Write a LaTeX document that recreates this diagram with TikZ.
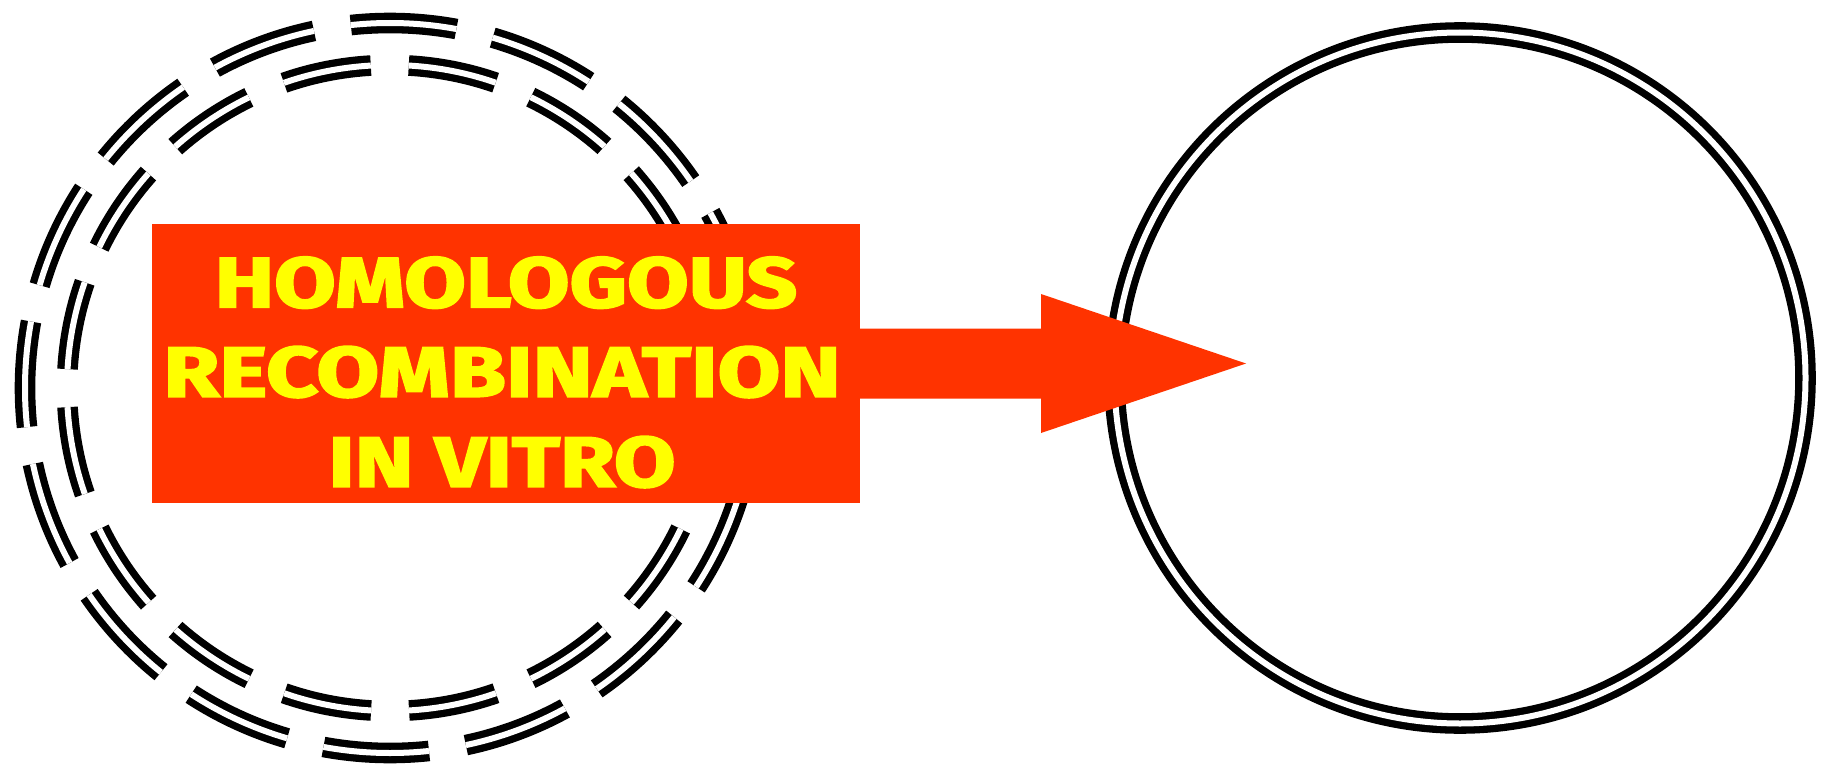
\documentclass[tikz,border=0pt]{standalone}
\usepackage{fontspec}
\usepackage{graphicx}
\setmainfont{Fira Sans}
\newfontfamily\boxfont{Fira Sans}[BoldFeatures={FakeBold=2.5}]
\usetikzlibrary{calc}
\definecolor{arrowred}{HTML}{FF3300}
\definecolor{txtyellow}{HTML}{FFFF00}
\begin{document}
\begin{tikzpicture}[x=1pt,y=-1pt,
  ring/.style={draw=black, line width=7.3pt, double=white, double distance=6pt},
  boxtext/.style={anchor=base, text=txtyellow, inner sep=0pt, font=\boxfont\bfseries}]
\useasboundingbox (0,0) rectangle (1829,768);
% left dashed double circles
\draw[ring, dash pattern=on 106pt off 37.335pt, dash phase=39pt] (390,388) circle[radius=365];
\draw[ring, dash pattern=on 88.84pt off 38pt, dash phase=107.84pt] (390,388) circle[radius=323];
% right double circle
\node[circle, ring, minimum size=691pt, inner sep=0pt] (target) at (1460,378) {};
% red box
\node[fill=arrowred, minimum width=708pt, minimum height=279pt, inner sep=0pt] (box) at (505.8,363.5) {};
% block arrow
\coordinate (hb) at (1041,363.5);
\coordinate (tip) at (1246,363.5);
\fill[arrowred] ($(box.east)+(-2,-35)$) -- ($(hb)+(0,-35)$) -- ($(hb)+(0,-69.5)$) -- (tip)
  -- ($(hb)+(0,69.5)$) -- ($(hb)+(0,35)$) -- ($(box.east)+(-2,35)$) -- cycle;
% text
\node[boxtext] (l1) at (506,307.3) {\resizebox{582pt}{50.5pt}{HOMOLOGOUS}};
\node[boxtext] (l2) at (502,396.7) {\resizebox{677pt}{50.5pt}{RECOMBINATION}};
\node[boxtext] (l3) at (502,486.7) {\resizebox{347pt}{50.5pt}{IN VITRO}};
\end{tikzpicture}
\end{document}
